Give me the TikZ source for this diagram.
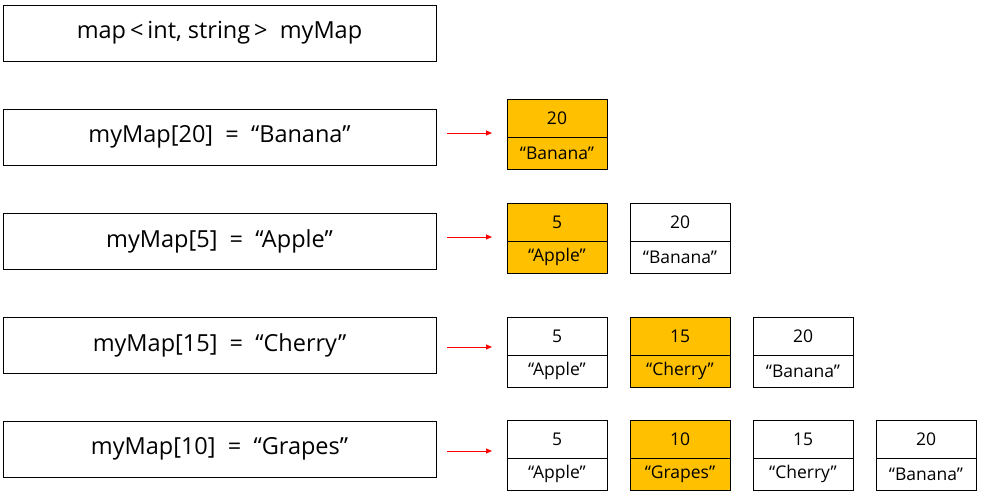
\documentclass[tikz,border=0pt]{standalone}
\usepackage{fontspec}
\setmainfont{Open Sans}
\usetikzlibrary{positioning,arrows.meta}
\definecolor{gold}{RGB}{255,192,0}

\begin{document}
\begin{tikzpicture}[x=1pt,y=-1pt,
  stmt/.style={draw,line width=0.8pt,minimum width=433pt,minimum height=56pt,font=\fontsize{23.5}{28}\selectfont},
  keycell/.style={draw,line width=0.8pt,minimum width=100pt,minimum height=38pt,outer sep=0pt,font=\fontsize{17.5}{21}\selectfont},
  valcell/.style={keycell,minimum height=32pt},
  link/.style={red,line width=0.8pt,-{Triangle[length=6pt,width=5pt]},shorten <=11pt,shorten >=15pt}]
\useasboundingbox (0,0) rectangle (983,493);

% statements
\node[stmt] (s0) at (219.5,33) {map\,<\,int, string\,>\ \ myMap};
\node[stmt] (s1) at (219.5,137) {myMap[20]\ \ =\ \ “Banana”};
\node[stmt] (s2) at (219.5,241) {myMap[5]\ \ =\ \ “Apple”};
\node[stmt] (s3) at (219.5,345) {myMap[15]\ \ =\ \ “Cherry”};
\node[stmt] (s4) at (219.5,449) {myMap[10]\ \ =\ \ “Grapes”};

% map contents after each insert
\foreach \c/\k/\v/\f in {1/20/Banana/gold}{
  \node[keycell,fill=\f] (k-1-\c) at (434+123*\c,118) {\k};
  \node[valcell,fill=\f,below=0pt of k-1-\c] (v-1-\c) {“\v”};
}
\foreach \c/\k/\v/\f in {1/5/Apple/gold,2/20/Banana/white}{
  \node[keycell,fill=\f] (k-2-\c) at (434+123*\c,222) {\k};
  \node[valcell,fill=\f,below=0pt of k-2-\c] (v-2-\c) {“\v”};
}
\foreach \c/\k/\v/\f in {1/5/Apple/white,2/15/Cherry/gold,3/20/Banana/white}{
  \node[keycell,fill=\f] (k-3-\c) at (434+123*\c,336) {\k};
  \node[valcell,fill=\f,below=0pt of k-3-\c] (v-3-\c) {“\v”};
}
\foreach \c/\k/\v/\f in {1/5/Apple/white,2/10/Grapes/gold,3/15/Cherry/white,4/20/Banana/white}{
  \node[keycell,fill=\f] (k-4-\c) at (434+123*\c,439) {\k};
  \node[valcell,fill=\f,below=0pt of k-4-\c] (v-4-\c) {“\v”};
}

\path[link]
  ([yshift=4pt]s1.east) edge ([yshift=4pt]s1.east -| k-1-1.west)
  ([yshift=4pt]s2.east) edge ([yshift=4pt]s2.east -| k-2-1.west)
  ([yshift=-2pt]s3.east) edge ([yshift=-2pt]s3.east -| k-3-1.west)
  ([yshift=-2pt]s4.east) edge ([yshift=-2pt]s4.east -| k-4-1.west);
\end{tikzpicture}
\end{document}
